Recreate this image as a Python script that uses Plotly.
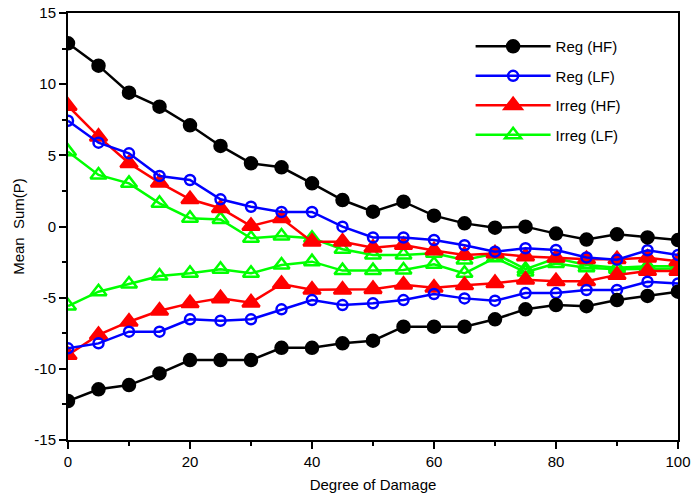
import plotly.graph_objects as go

damage = [0, 5, 10, 15, 20, 25, 30, 35, 40, 45, 50, 55, 60, 65, 70, 75, 80, 85, 90, 95, 100]

reg_hf_upper = [12.87, 11.3, 9.4, 8.42, 7.11, 5.66, 4.44, 4.16, 3.03, 1.86, 1.04,
                1.74, 0.76, 0.22, -0.08, -0.01, -0.5, -0.92, -0.55, -0.77, -0.95]
reg_hf_lower = [-12.26, -11.44, -11.14, -10.32, -9.38, -9.38, -9.38, -8.52, -8.52, -8.21, -8.02,
                -7.04, -7.04, -7.04, -6.52, -5.82, -5.52, -5.6, -5.17, -4.88, -4.58]

reg_lf_upper = [7.43, 5.89, 5.14, 3.55, 3.27, 1.91, 1.39, 1.02, 1.02, -0.01, -0.77,
                -0.77, -0.95, -1.32, -1.77, -1.53, -1.65, -2.17, -2.33, -1.67, -2.0]
reg_lf_lower = [-8.56, -8.21, -7.39, -7.39, -6.52, -6.62, -6.52, -5.82, -5.17, -5.52, -5.4,
                -5.17, -4.74, -5.05, -5.21, -4.68, -4.68, -4.46, -4.46, -3.88, -4.0]

irreg_hf_upper = [8.47, 6.31, 4.44, 3.08, 1.91, 1.28, 0.03, 0.58, -1.07, -1.07, -1.5,
                  -1.3, -1.68, -2.0, -1.9, -2.1, -2.2, -2.3, -2.3, -2.2, -2.45]
irreg_hf_lower = [-9.03, -7.62, -6.69, -5.92, -5.4, -5.05, -5.35, -4.04, -4.45, -4.45, -4.4,
                  -4.1, -4.3, -4.13, -3.98, -3.74, -3.85, -3.85, -3.4, -3.12, -3.12]

irreg_lf_upper = [5.26, 3.62, 3.03, 1.63, 0.58, 0.5, -0.83, -0.67, -0.83, -1.6, -2.0,
                  -2.0, -1.88, -2.35, -1.9, -3.0, -2.24, -2.7, -2.9, -2.8, -2.8]
irreg_lf_lower = [-5.59, -4.58, -4.04, -3.48, -3.29, -3.01, -3.29, -2.71, -2.47, -3.1, -3.1,
                  -3.06, -2.66, -3.29, -2.2, -3.2, -2.6, -2.9, -3.0, -2.95, -2.95]

x_ticks = [0, 20, 40, 60, 80, 100]
x_ticktext = ["0", "20", "40", "60", "80", "100"]
y_ticks = [-15, -10, -5, 0, 5, 10, 15]
y_ticktext = ["-15", "-10", "-5", "0", "5", "10", "15"]

series = [
    ("Reg (HF)", reg_hf_upper, reg_hf_lower, "#000000", "circle", 12),
    ("Reg (LF)", reg_lf_upper, reg_lf_lower, "#0000ff", "circle-open", 10),
    ("Irreg (HF)", irreg_hf_upper, irreg_hf_lower, "#ff0000", "triangle-up", 15),
    ("Irreg (LF)", irreg_lf_upper, irreg_lf_lower, "#00ff00", "triangle-up-open", 14),
]

fig = go.Figure()
for rank in reversed(range(len(series))):
    name, up, lo, col, sym, size = series[rank]
    for i, ys in enumerate([lo, up]):
        fig.add_trace(go.Scatter(
            x=damage, y=ys, mode="lines+markers", name=name,
            legendgroup=name, showlegend=(i == 1), legendrank=rank + 1,
            line=dict(color=col, width=2.5),
            marker=dict(symbol=sym, size=size, color=col,
                        line=dict(color=col, width=2.5)),
        ))

fig.update_layout(
    width=695, height=499,
    margin=dict(l=68, r=17, t=13, b=59),
    paper_bgcolor="white", plot_bgcolor="white",
    font=dict(family="Liberation Sans, Arial, sans-serif", size=15, color="black"),
    showlegend=True,
    legend=dict(x=0.66, y=0.96, xanchor="left", yanchor="top",
                bgcolor="rgba(0,0,0,0)", traceorder="grouped",
                font=dict(size=15), tracegroupgap=7, itemwidth=75),
)
fig.update_xaxes(
    range=[0, 100], tickmode="array", tickvals=x_ticks, ticktext=x_ticktext,
    ticks="outside", ticklen=7, tickwidth=2, tickcolor="black",
    minor=dict(tickvals=[10, 30, 50, 70, 90], ticks="outside", ticklen=4, tickwidth=2, tickcolor="black"),
    showline=True, linewidth=2, linecolor="black", mirror=True,
    showgrid=False, zeroline=False, automargin=False,
    title=dict(text="Degree of Damage", standoff=10, font=dict(size=15)),
)
fig.update_yaxes(
    range=[-15, 15], tickmode="array", tickvals=y_ticks, ticktext=y_ticktext,
    ticks="outside", ticklen=7, tickwidth=2, tickcolor="black",
    minor=dict(tickvals=[-12.5, -7.5, -2.5, 2.5, 7.5, 12.5], ticks="outside", ticklen=4, tickwidth=2, tickcolor="black"),
    showline=True, linewidth=2, linecolor="black", mirror=True,
    showgrid=False, zeroline=False, automargin=False,
    title=dict(text="Mean  Sum(P)", standoff=6, font=dict(size=15)),
)
fig.write_html("out.html", config={"displayModeBar": False},
               post_script="document.body.style.margin='0';document.body.style.overflow='hidden';")
